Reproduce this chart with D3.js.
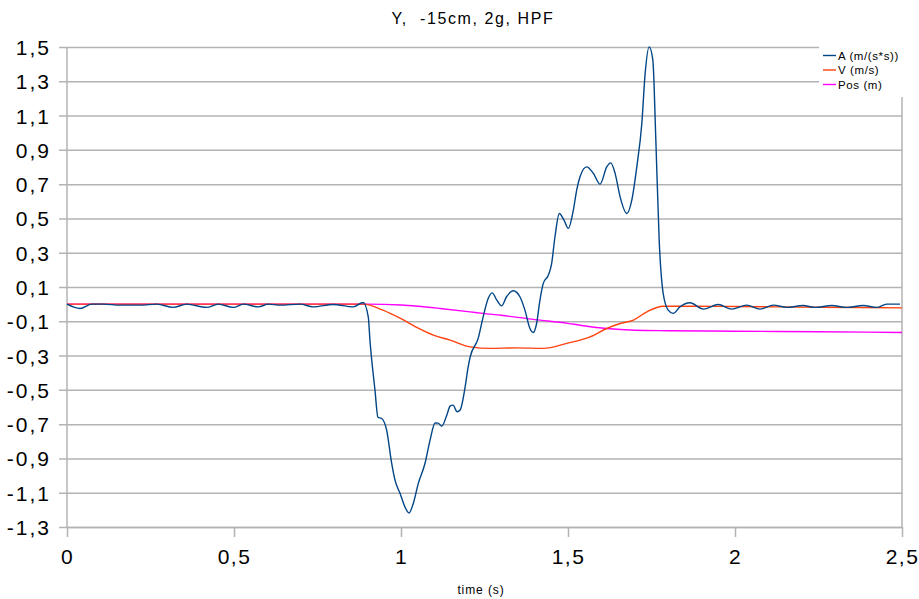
<!DOCTYPE html>
<html>
<head>
<meta charset="utf-8">
<script src="https://cdn.jsdelivr.net/npm/d3@7"></script>
<style>
  html, body { margin: 0; padding: 0; background: #fff; }
  svg { display: block; font-family: "Liberation Sans", Arial, sans-serif; }
</style>
</head>
<body>
<svg id="chart" width="919" height="599"></svg>
<script>
// Acceleration (m/s²) samples
const accTime = [0, 0.039, 0.074, 0.109, 0.159, 0.219, 0.269, 0.318, 0.358, 0.418, 0.453, 0.498, 0.528, 0.573,
  0.603, 0.638, 0.698, 0.737, 0.797, 0.857, 0.887, 0.902, 0.907, 0.922, 0.931, 0.942, 0.957, 0.972, 0.982,
  0.997, 1.012, 1.024, 1.037, 1.052, 1.072, 1.087, 1.102, 1.111, 1.122, 1.137, 1.147, 1.156, 1.168, 1.177,
  1.192, 1.201, 1.207, 1.231, 1.246, 1.261, 1.273, 1.287, 1.301, 1.316, 1.336, 1.356, 1.371, 1.386, 1.396,
  1.406, 1.416, 1.426, 1.441, 1.451, 1.461, 1.474, 1.488, 1.501, 1.516, 1.526, 1.536, 1.556, 1.576, 1.596,
  1.616, 1.628, 1.641, 1.656, 1.676, 1.691, 1.706, 1.721, 1.731, 1.743, 1.754, 1.763, 1.773, 1.785, 1.800,
  1.815, 1.835, 1.865, 1.905, 1.950, 1.990, 2.035, 2.075, 2.115, 2.155, 2.204, 2.240, 2.290, 2.334, 2.384,
  2.424, 2.454, 2.494];
const accValue = [0, -0.025, 0, 0, -0.006, -0.006, 0, -0.019, 0, -0.019, 0, -0.019, 0, -0.016,
  0, -0.006, 0, -0.016, -0.002, -0.016, 0.01, -0.074, -0.21, -0.50, -0.66, -0.667, -0.735, -0.928, -1.027,
  -1.103, -1.184, -1.218, -1.161, -1.044, -0.928, -0.793, -0.693, -0.694, -0.712, -0.648, -0.595, -0.589, -0.628, -0.618,
  -0.483, -0.368, -0.309, -0.200, -0.074, 0.033, 0.066, 0.023, -0.010, 0.043, 0.078, 0.043, -0.035, -0.142, -0.165,
  -0.113, 0.023, 0.121, 0.169, 0.237, 0.393, 0.529, 0.490, 0.442, 0.548, 0.665, 0.743, 0.801, 0.763, 0.700,
  0.801, 0.824, 0.763, 0.626, 0.529, 0.607, 0.801, 1.054, 1.346, 1.501, 1.424, 0.957, 0.373, 0.062, -0.035,
  -0.054, -0.016, 0.008, -0.029, -0.002, -0.029, -0.006, -0.029, -0.006, -0.019, -0.008, -0.019, -0.008, -0.019, -0.008,
  -0.019, 0, 0];

// Velocity (m/s) samples
const velTime = [0, 0.3, 0.6, 0.887, 0.946, 0.997, 1.047, 1.097, 1.147, 1.207, 1.266, 1.346, 1.426, 1.496,
  1.566, 1.616, 1.656, 1.696, 1.736, 1.785, 1.865, 2.0, 2.25, 2.5];
const velValue = [0, 0, 0, 0, -0.035, -0.082, -0.136, -0.181, -0.210, -0.249, -0.258, -0.255, -0.258, -0.229,
  -0.191, -0.142, -0.113, -0.093, -0.045, -0.012, -0.012, -0.014, -0.018, -0.022];

// Position (m) samples
const posTime = [0, 0.5, 0.9, 1.0, 1.05, 1.117, 1.207, 1.245, 1.3, 1.4, 1.5, 1.536, 1.616, 1.7, 1.8, 2.0, 2.25, 2.5];
const posValue = [0, 0, 0, -0.005, -0.012, -0.025, -0.045, -0.054, -0.065, -0.09, -0.112, -0.123, -0.142, -0.152,
  -0.155, -0.158, -0.161, -0.165];

const xTicks = [0, 0.5, 1, 1.5, 2, 2.5];
const yTicks = [1.5, 1.3, 1.1, 0.9, 0.7, 0.5, 0.3, 0.1, -0.1, -0.3, -0.5, -0.7, -0.9, -1.1, -1.3];

const seriesNames = ["A (m/(s*s))", "V (m/s)", "Pos (m)"];
const seriesColors = ["#004586", "#ff420e", "#ff00ff"];

const svg = d3.select("#chart");
const plotLeft = 67, plotRight = 902, plotTop = 47, plotBottom = 527;

const x = d3.scaleLinear().domain([0, 2.5]).range([plotLeft, plotRight]);
const y = d3.scaleLinear().domain([-1.3, 1.5]).range([plotBottom, plotTop]);
const fmt = v => String(+v.toFixed(1)).replace(".", ",");

// horizontal grid + y ticks
const yAxis = d3.axisLeft(y).tickValues(yTicks).tickFormat(fmt)
  .tickSize(-(plotRight - plotLeft)).tickSizeOuter(0).tickPadding(0);
const gy = svg.append("g").attr("transform", `translate(${plotLeft},0)`).call(yAxis);
gy.select(".domain").remove();
gy.selectAll(".tick line").attr("x1", -8).attr("stroke", "#b3b3b3").attr("stroke-width", 1.5);
gy.selectAll(".tick text").attr("x", -16).attr("dy", "0.36em")
  .attr("font-size", 21).attr("letter-spacing", 2).attr("fill", "#000")
  .attr("font-family", "Liberation Sans, Arial, sans-serif");

// vertical frame lines
svg.append("line").attr("x1", plotLeft).attr("x2", plotLeft).attr("y1", plotTop).attr("y2", plotBottom)
  .attr("stroke", "#b3b3b3").attr("stroke-width", 1.5);
svg.append("line").attr("x1", plotRight).attr("x2", plotRight).attr("y1", plotTop).attr("y2", plotBottom)
  .attr("stroke", "#b3b3b3").attr("stroke-width", 1.5);

// x axis
const xAxis = d3.axisBottom(x).tickValues(xTicks).tickFormat(fmt).tickSize(10).tickSizeOuter(0).tickPadding(12);
const gx = svg.append("g").attr("transform", `translate(0,${plotBottom})`).call(xAxis);
gx.select(".domain").attr("stroke", "#b3b3b3").attr("stroke-width", 1.5);
gx.selectAll(".tick line").attr("stroke", "#b3b3b3").attr("stroke-width", 1.5);
gx.selectAll(".tick text").attr("font-size", 21).attr("letter-spacing", 1.5).attr("fill", "#000")
  .attr("font-family", "Liberation Sans, Arial, sans-serif");

// series
const line = d3.line().x(d => x(d[0])).y(d => y(d[1])).curve(d3.curveMonotoneX);
const series = [
  d3.zip(accTime, accValue),
  d3.zip(velTime, velValue),
  d3.zip(posTime, posValue)
];
// draw position, velocity, then acceleration on top
[2, 1, 0].forEach(i => {
  svg.append("path").datum(series[i]).attr("d", line)
    .attr("fill", "none").attr("stroke", seriesColors[i]).attr("stroke-width", 1.4)
    .attr("stroke-linejoin", "round");
});

// legend on white panel
const lg = svg.append("g");
lg.append("rect").attr("x", 819).attr("y", 40).attr("width", 100).attr("height", 57).attr("fill", "#fff");
seriesNames.forEach((name, i) => {
  const yy = 55.5 + i * 14.5;
  lg.append("line").attr("x1", 823).attr("x2", 836).attr("y1", yy).attr("y2", yy)
    .attr("stroke", seriesColors[i]).attr("stroke-width", 1.4);
  lg.append("text").attr("x", 838).attr("y", yy).attr("dy", "0.35em")
    .attr("font-size", 11.5).attr("letter-spacing", 0.6).attr("fill", "#000").text(name);
});

// title
svg.append("text").attr("x", 473).attr("y", 24).attr("text-anchor", "middle")
  .attr("font-size", 16).attr("letter-spacing", 1.6).attr("fill", "#000")
  .attr("xml:space", "preserve").style("white-space", "pre").text("Y,  -15cm, 2g, HPF");

// x axis title
svg.append("text").attr("x", 481).attr("y", 594).attr("text-anchor", "middle")
  .attr("font-size", 12).attr("letter-spacing", 0.9).attr("fill", "#000").text("time (s)");
</script>
</body>
</html>
